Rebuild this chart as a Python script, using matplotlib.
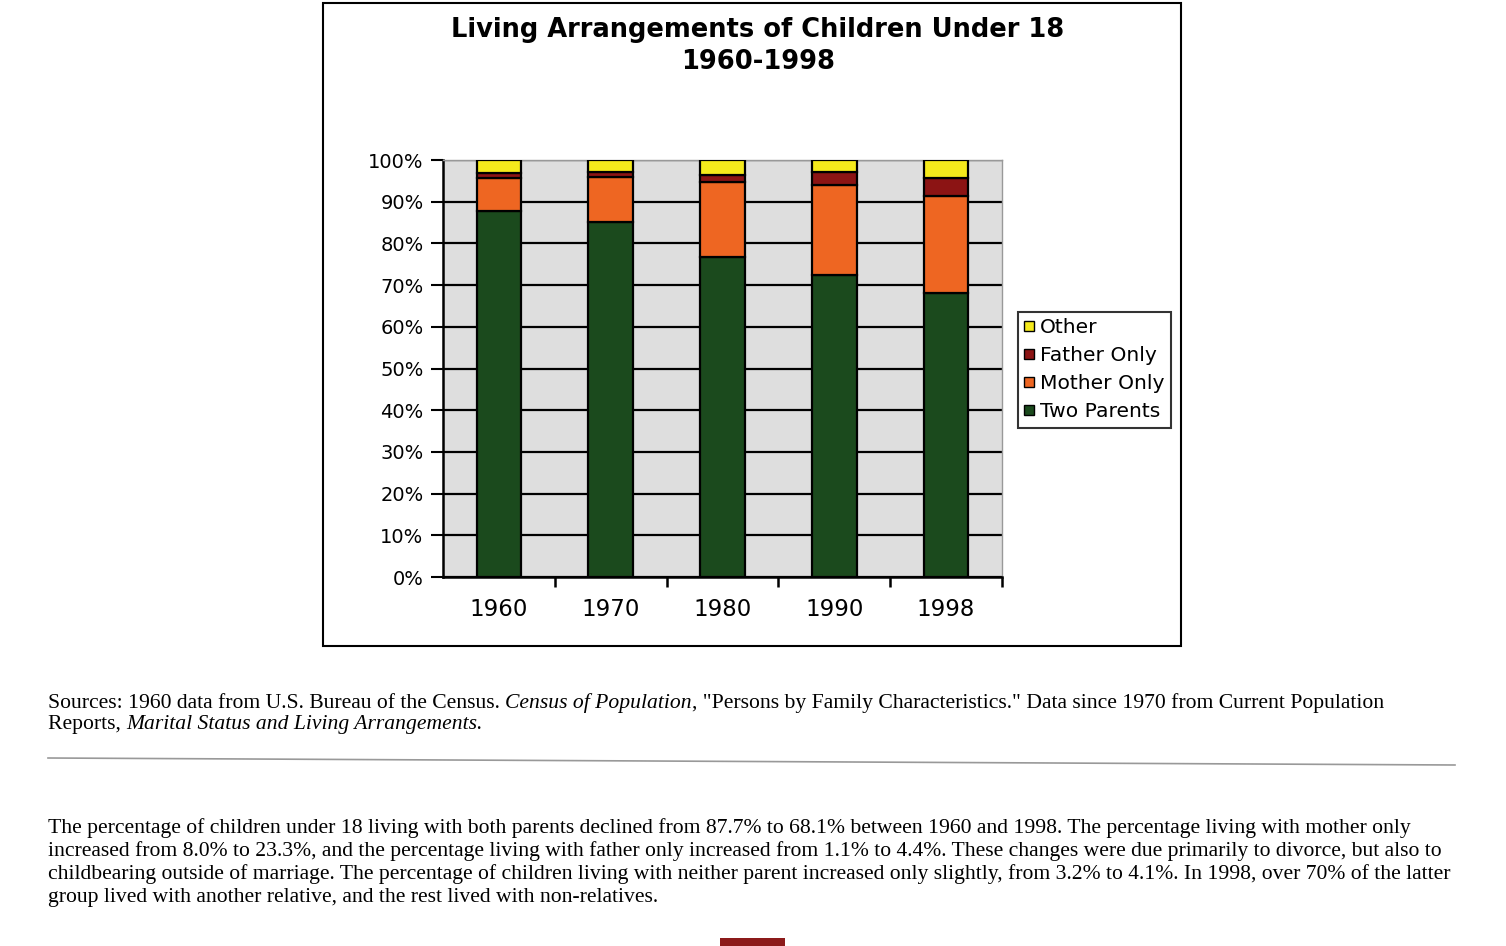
import numpy as np
import matplotlib.pyplot as plt
from matplotlib.patches import Rectangle
from matplotlib.lines import Line2D

years = ['1960', '1970', '1980', '1990', '1998']
two_parents = [87.7, 85.2, 76.7, 72.5, 68.1]
mother_only = [8.0, 10.8, 18.0, 21.6, 23.3]
father_only = [1.1, 1.1, 1.7, 3.1, 4.4]
other = [3.2, 2.9, 3.7, 2.8, 4.1]

series_names = ['Two Parents', 'Mother Only', 'Father Only', 'Other']
series_colors = ['#1b4a1d', '#ee6622', '#8c1414', '#f5ea1c']

source_lines = [
    [('Sources: 1960 data from U.S. Bureau of the Census. ', 'normal'),
     ('Census of Population', 'italic'),
     (', "Persons by Family Characteristics." Data since 1970 from Current Population', 'normal')],
    [('Reports, ', 'normal'), ('Marital Status and Living Arrangements.', 'italic')],
]
para_lines = [
    'The percentage of children under 18 living with both parents declined from 87.7% to 68.1% between 1960 and 1998. The percentage living with mother only',
    'increased from 8.0% to 23.3%, and the percentage living with father only increased from 1.1% to 4.4%. These changes were due primarily to divorce, but also to',
    'childbearing outside of marriage. The percentage of children living with neither parent increased only slightly, from 3.2% to 4.1%. In 1998, over 70% of the latter',
    'group lived with another relative, and the rest lived with non-relatives.',
]

W, H = 1506, 946
fig = plt.figure(figsize=(W / 100, H / 100), dpi=100)
fig.patch.set_facecolor('white')

def fx(px):
    return px / W

def fy(py):
    return 1 - py / H

# chart frame
fig.patches.append(Rectangle((fx(323), fy(646)), fx(1181) - fx(323), fy(3) - fy(646),
                             transform=fig.transFigure, fill=False, ec='black', lw=1.5))

ax = fig.add_axes([fx(443), fy(577), fx(1002) - fx(443), fy(160) - fy(577)])
ax.set_facecolor('#dedede')

x = np.arange(len(years))
bottom = np.zeros(len(years))
handles = []
for vals, name, col in zip([two_parents, mother_only, father_only, other], series_names, series_colors):
    ax.bar(x, vals, width=0.4, bottom=bottom, color=col, edgecolor='black', lw=1.6, zorder=3)
    bottom += np.array(vals)
    handles.append(Line2D([], [], ls='', marker='s', ms=7, mfc=col, mec='black', mew=1.0, label=name))

ax.set_xlim(-0.5, len(years) - 0.5)
ax.set_ylim(0, 100)
ax.set_yticks(np.arange(0, 101, 10))
ax.set_yticklabels([f'{v}%' for v in range(0, 101, 10)], fontsize=14)
ax.yaxis.grid(True, color='black', lw=1.6, zorder=0)
ax.set_axisbelow(True)
ax.set_xticks(x)
ax.set_xticklabels(years, fontsize=16.5)
ax.set_xticks(x + 0.5, minor=True)
ax.tick_params(axis='x', which='major', length=0, pad=15)
ax.tick_params(axis='x', which='minor', length=7, width=1.8, direction='out')
ax.tick_params(axis='y', length=9, width=1.5, direction='out', pad=5)
for s in ['top', 'right']:
    ax.spines[s].set_color('#999999')
    ax.spines[s].set_linewidth(1)
for s in ['left', 'bottom']:
    ax.spines[s].set_color('black')
    ax.spines[s].set_linewidth(1.8)

leg = fig.legend(handles=handles[::-1], loc='upper left', bbox_to_anchor=(fx(1018), fy(312)),
                 fontsize=14.6, frameon=True, fancybox=False, edgecolor='black',
                 handlelength=0.5, handletextpad=0.3, borderpad=0.3, labelspacing=0.45,
                 borderaxespad=0)
leg.get_frame().set_linewidth(1.5)

fig.text(fx(758), fy(30), 'Living Arrangements of Children Under 18', ha='center', va='center',
         fontsize=18.5, fontweight='bold')
fig.text(fx(758), fy(62), '1960-1998', ha='center', va='center', fontsize=18.5, fontweight='bold')

# text below the chart
renderer = fig.canvas.get_renderer()

def mixed_line(segments, x0, y0, size):
    xpos = x0
    for txt, style in segments:
        t = fig.text(fx(xpos), fy(y0), txt, ha='left', va='center', fontsize=size,
                     family='Liberation Serif', style=style)
        bb = t.get_window_extent(renderer=renderer)
        xpos += bb.width

src_y = [703, 724]
for segs, yy in zip(source_lines, src_y):
    mixed_line(segs, 48, yy, 15.6)

fig.add_artist(Line2D([fx(48), fx(1455)], [fy(758), fy(765)], transform=fig.transFigure,
                      color='#999999', lw=1.2))

para_y = [828, 851, 874, 897]
for line, yy in zip(para_lines, para_y):
    fig.text(fx(48), fy(yy), line, ha='left', va='center', fontsize=15.6, family='Liberation Serif')

fig.patches.append(Rectangle((fx(720), fy(946)), fx(785) - fx(720), fy(938) - fy(946),
                             transform=fig.transFigure, fc='#8c1a1a', ec='none'))

fig.savefig('out.png', dpi=100)
